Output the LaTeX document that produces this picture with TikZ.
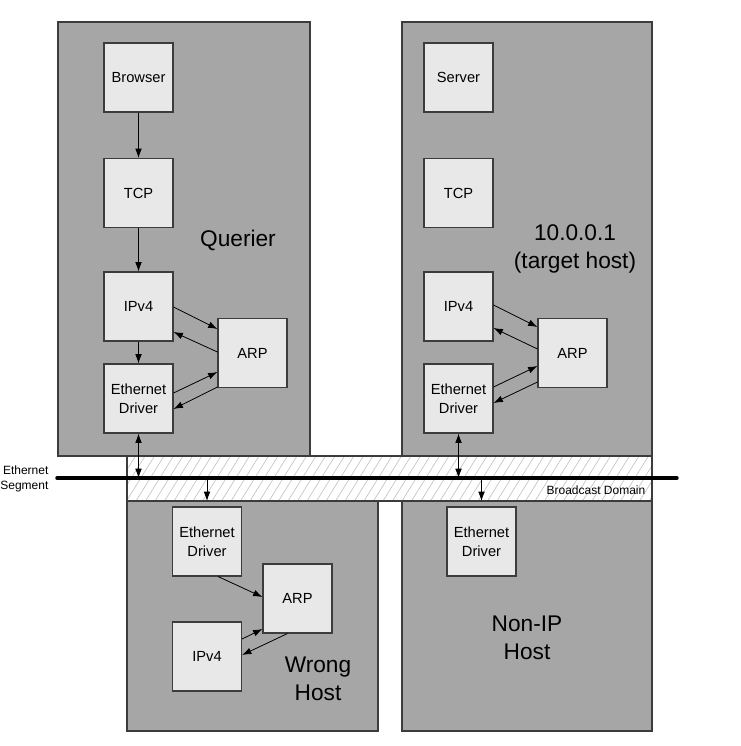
\documentclass[tikz,border=0pt]{standalone}
\usepackage{fontspec}
\setmainfont{Liberation Sans}
\usetikzlibrary{calc,arrows.meta}
\definecolor{hostgray}{HTML}{A6A6A6}
\definecolor{layerfill}{HTML}{E8E8E8}
\definecolor{edgegray}{HTML}{3C3C3C}
\definecolor{hatchgray}{HTML}{C0C0C0}

\begin{document}
\begin{tikzpicture}[x=0.75pt,y=-0.75pt,
  hostbox/.style={fill=hostgray,draw=edgegray,line width=0.8pt},
  layer/.style={draw=edgegray,fill=layerfill,line width=0.8pt,
    minimum width=51.75pt,minimum height=51.75pt,inner sep=0pt,
    align=center,font=\fontsize{11}{14}\selectfont},
  hostlabel/.style={align=center,font=\fontsize{17}{21}\selectfont},
  smalllabel/.style={font=\fontsize{9}{11.25}\selectfont},
  tip/.tip={Latex[length=7pt,width=5pt]},
  flow/.style={draw=black,line width=0.6pt,-tip},
  twoway/.style={draw=black,line width=0.6pt,tip-tip},
]
\useasboundingbox (0,0) rectangle (741,746);

% hosts
\draw[hostbox] (58,22) rectangle (310,456);
\draw[hostbox] (402,22) rectangle (652,456);
\draw[hostbox] (127,501) rectangle (378,731);
\draw[hostbox] (402,501) rectangle (652,731);
\coordinate (wtop) at (127,501);

% broadcast domain strip
\begin{scope}
  \clip (127,456) rectangle (652,501);
  \fill[white] (127,456) rectangle (652,501);
  \foreach \i in {0,...,60}
    \draw[hatchgray,line width=0.45pt] ({98+\i*9.5},501) -- ++(28,-45);
\end{scope}
\draw[edgegray,line width=0.8pt] (127,456) rectangle (652,501);

% ethernet segment
\coordinate (segL) at (57,478);
\coordinate (segR) at (677,478);
\draw[black,line width=2.6pt,line cap=round] (segL) -- (segR);
\node[smalllabel,align=right,anchor=east,inner sep=1pt] (seglabel) at (50,479) {Ethernet\\Segment};
\node[smalllabel,anchor=east] (bdlabel) at (650,490) {Broadcast Domain};

% querier stack
\node[layer] (qbrowser) at (138.5,77.5) {Browser};
\node[layer] (qtcp) at (138.5,193) {TCP};
\node[layer] (qip) at (138.5,306.5) {IPv4};
\node[layer] (qeth) at (138.5,398.5) {Ethernet\\Driver};
\node[layer] (qarp) at (252.5,353) {ARP};
\node[hostlabel] (qlabel) at (238,240) {Querier};

% target host stack
\node[layer] (tserver) at (458.5,77.5) {Server};
\node[layer] (ttcp) at (458.5,193) {TCP};
\node[layer] (tip) at (458.5,306.5) {IPv4};
\node[layer] (teth) at (458.5,398.5) {Ethernet\\Driver};
\node[layer] (tarp) at (572.5,353) {ARP};
\node[hostlabel] (tlabel) at (575,249) {10.0.0.1\\(target host)};

% wrong host stack
\node[layer] (weth) at (207,541.5) {Ethernet\\Driver};
\node[layer] (warp) at (297.5,598.5) {ARP};
\node[layer] (wip) at (207,656.5) {IPv4};
\node[hostlabel] (wlabel) at (318,679) {Wrong\\Host};

% non-IP host
\node[layer] (neth) at (481.5,541.5) {Ethernet\\Driver};
\node[hostlabel] (nlabel) at (527,638) {Non-IP\\Host};

% querier connectors
\draw[flow] (qbrowser) -- (qtcp);
\draw[flow] (qtcp) -- (qip);
\draw[flow] (qip) -- (qeth);
\draw[flow] ($(qip.east)+(0,0.5)$) -- ($(qarp.west)+(0,-24)$);
\draw[flow] ($(qarp.west)+(0,-1)$) -- ($(qip.east)+(0,25.5)$);
\draw[flow] ($(qeth.east)+(0,-5.5)$) -- ($(qarp.west)+(0,19)$);
\draw[flow] ($(qarp.west)+(0,34)$) -- ($(qeth.east)+(0,10.5)$);
\draw[twoway] (qeth.south) -- (qeth.south |- segL);

% target host connectors
\draw[flow] ($(tip.east)+(0,-1.5)$) -- ($(tarp.west)+(0,-26)$);
\draw[flow] ($(tarp.west)+(0,-4)$) -- ($(tip.east)+(0,21.5)$);
\draw[flow] ($(teth.east)+(0,-11.5)$) -- ($(tarp.west)+(0,13)$);
\draw[flow] ($(tarp.west)+(0,29)$) -- ($(teth.east)+(0,4.5)$);
\draw[twoway] (teth.south) -- (teth.south |- segL);

% wrong host connectors
\draw[flow] ($(weth.south)+(11,0)$) -- ($(warp.west)+(0,-1.5)$);
\draw[flow] ($(wip.east)+(0,-17.5)$) -- ($(warp.west)+(0,30.5)$);
\draw[flow] ($(warp.south)+(-10,0)$) -- ($(wip.east)+(0,-1.5)$);
\draw[flow] (weth.north |- segL) -- (weth.north |- wtop);

% non-IP host connector
\draw[flow] (neth.north |- segL) -- (neth.north |- wtop);
\end{tikzpicture}
\end{document}
